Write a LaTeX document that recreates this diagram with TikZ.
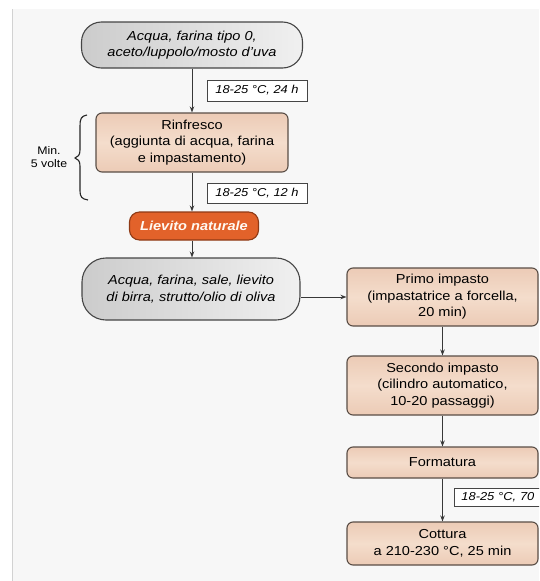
\documentclass[tikz,border=0pt]{standalone}
\usepackage{fontspec}
\setmainfont{Liberation Sans}[FakeStretch=1.12]
\usetikzlibrary{arrows.meta}

\definecolor{pagebg}{HTML}{F7F7F7}
\definecolor{edgecol}{HTML}{454545}
\definecolor{peachIn}{HTML}{F4DDCC}
\definecolor{peachOut}{HTML}{ECCBB6}
\definecolor{peachedge}{HTML}{5A4E46}
\definecolor{orangefill}{HTML}{E2622A}
\definecolor{orangeedge}{HTML}{8E3A16}
\definecolor{pillL}{HTML}{CCCCCC}
\definecolor{pillR}{HTML}{F0F0F0}
\definecolor{arrowcol}{HTML}{383838}

\tikzset{
  base/.style={inner sep=0pt, align=center, font=\fontsize{13}{16.5}\selectfont},
  pill/.style={base, draw=edgecol, line width=1.1pt, rounded corners=20pt,
    left color=pillL, right color=pillR, font=\fontsize{13}{16.5}\selectfont\itshape},
  stepbox/.style={base, draw=peachedge, line width=1.1pt, rounded corners=6pt,
    top color=peachOut, bottom color=peachOut, middle color=peachIn},
  yeast/.style={base, draw=orangeedge, line width=1.1pt, fill=orangefill, rounded corners=10pt,
    text=white!95!orange, font=\fontsize{13}{16}\selectfont\bfseries\itshape},
  tag/.style={draw=edgecol, line width=0.9pt, fill=white, inner sep=0pt,
    font=\fontsize{11.5}{13}\selectfont\itshape},
  flow/.style={draw=arrowcol, line width=1pt, -{Stealth[length=6pt,width=4.5pt]}},
}

\begin{document}
\begin{tikzpicture}[x=1pt, y=-1pt]
  \useasboundingbox (0,0) rectangle (539,581);
  \clip (0,0) rectangle (539,581);

  % paper
  \fill[white] (0,0) rectangle (539,581);
  \fill[pagebg] (12,9) rectangle (539,581);
  \draw[gray!35, line width=1.5pt] (12.5,9) -- (12.5,581);

  % left column
  \node[pill, minimum width=221pt, minimum height=46pt] (water) at (192,45)
    {Acqua, farina tipo 0,\\aceto/luppolo/mosto d'uva};
  \node[stepbox, minimum width=192pt, minimum height=59pt] (refresh) at (192,142.5)
    {Rinfresco\\(aggiunta di acqua, farina\\e impastamento)};
  \node[yeast, minimum width=129pt, minimum height=28pt] (yeastnode) at (194,226)
    {Lievito naturale};
  \node[pill, minimum width=218pt, minimum height=62pt, rounded corners=24pt] (mix) at (191,289)
    {Acqua, farina, sale, lievito\\di birra, strutto/olio di oliva};

  % time/temperature tags
  \node[tag, minimum width=100pt, minimum height=21pt] (t1) at (257,90.5) {18-25 °C, 24 h};
  \node[tag, minimum width=100pt, minimum height=20pt] (t2) at (257,193) {18-25 °C, 12 h};

  % repetition brace
  \draw[black!85, line width=1.1pt]
    (87,115) .. controls (81,116) and (80,119) .. (80,126) -- (80,150)
    .. controls (80,155) and (78,157) .. (75,158)
    .. controls (78,159) and (80,161) .. (80,166) -- (80,191)
    .. controls (80,197) and (82,199) .. (88,200);
  \node[font=\fontsize{11}{13}\selectfont, align=center] (times) at (49,157) {Min.\\5 volte};

  % right column
  \node[stepbox, minimum width=191pt, minimum height=58pt] (first) at (442.5,297)
    {Primo impasto\\(impastatrice a forcella,\\20 min)};
  \node[stepbox, minimum width=191pt, minimum height=59pt] (second) at (442.5,385.5)
    {Secondo impasto\\(cilindro automatico,\\10-20 passaggi)};
  \node[stepbox, minimum width=191pt, minimum height=31pt] (shape) at (442.5,462.5)
    {Formatura};
  \node[stepbox, minimum width=191pt, minimum height=43pt] (bake) at (442.5,543.5)
    {Cottura\\a 210-230 °C, 25 min};
  \node[tag, anchor=west, minimum width=110pt, minimum height=18pt,
    text width=100pt, align=left, inner xsep=7pt] (t3) at (454,497) {18-25 °C, 70};

  % connectors
  \draw[flow] (water) -- (refresh);
  \draw[flow] (refresh) -- (refresh |- yeastnode.north);
  \draw[flow] (refresh |- yeastnode.south) -- (refresh |- mix.north);
  \draw[flow] (first.west -| mix.east) -- (first.west);
  \draw[flow] (first) -- (second);
  \draw[flow] (second) -- (shape);
  \draw[flow] (shape) -- (bake);
\end{tikzpicture}
\end{document}
